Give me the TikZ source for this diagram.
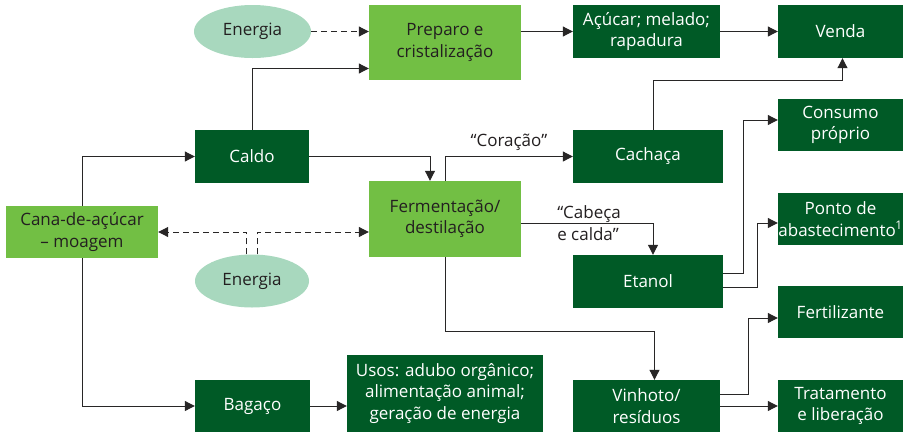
\documentclass[tikz,border=0pt]{standalone}
\usepackage{fontspec}
\setmainfont{Open Sans}
\usetikzlibrary{positioning,shapes.geometric,arrows.meta}
\definecolor{verdeesc}{RGB}{0,90,38}
\definecolor{verdecla}{RGB}{114,191,68}
\definecolor{verdeeli}{RGB}{168,216,190}
\definecolor{texto}{RGB}{35,31,32}
\definecolor{linha}{RGB}{40,38,38}

\begin{document}
\begin{tikzpicture}[x=1pt,y=-1pt,
    every node/.style={font=\fontsize{17}{21.5}\selectfont,align=center,inner sep=0pt},
    escuro/.style={rectangle,fill=verdeesc,text=white},
    claro/.style={rectangle,fill=verdecla,text=texto},
    elipse/.style={ellipse,fill=verdeeli,text=texto,minimum width=117pt,minimum height=53pt},
    seta/.style={draw=linha,line width=1pt,-{Triangle[length=10pt,width=10pt]}},
    tracejada/.style={seta,dash pattern=on 6pt off 4pt},
    lbl/.style={text=texto,fill=none}]
  \useasboundingbox (0,0) rectangle (903,432);
  % nós
  \node[elipse] (ener1) at (252.5,31.5) {Energia};
  \node[claro,minimum width=152pt,minimum height=75pt] (prep) at (445,42.5) {Preparo e\\cristalização};
  \node[escuro,minimum width=147pt,minimum height=53pt] (acuc) at (646.5,31.5) {Açúcar; melado;\\rapadura};
  \node[escuro,minimum width=125pt,minimum height=53pt] (venda) at (840.5,31.5) {Venda};
  \node[escuro,minimum width=125pt,minimum height=52pt] (consumo) at (840.5,125) {Consumo\\próprio};
  \node[escuro,minimum width=125pt,minimum height=52pt] (ponto) at (840.5,219) {Ponto de\\abastecimento\kern-0.5pt\textsuperscript{1}};
  \node[escuro,minimum width=125pt,minimum height=52pt] (fert) at (840.5,312) {Fertilizante};
  \node[escuro,minimum width=125pt,minimum height=52pt] (trat) at (840.5,406) {Tratamento\\e liberação};
  \node[escuro,minimum width=114pt,minimum height=53pt] (caldo) at (252,156.5) {Caldo};
  \node[escuro,minimum width=150pt,minimum height=53pt] (cacha) at (648,156.5) {Cachaça};
  \node[claro,minimum width=152pt,minimum height=52pt] (cana) at (82,232) {Cana-de-açúcar\\– moagem};
  \node[claro,minimum width=152pt,minimum height=76pt] (ferm) at (445,219) {Fermentação/\\destilação};
  \node[elipse,minimum width=114pt] (ener2) at (252,281) {Energia};
  \node[escuro,minimum width=150pt,minimum height=53pt] (etanol) at (648,281.5) {Etanol};
  \node[escuro,minimum width=115pt,minimum height=52pt] (bagaco) at (252.5,406) {Bagaço};
  \node[escuro,minimum width=196pt,minimum height=77pt] (usos) at (445,393.5) {Usos: adubo orgânico;\\alimentação animal;\\geração de energia};
  \node[escuro,minimum width=147pt,minimum height=52pt] (vinh) at (646.5,406) {Vinhoto/\\resíduos};
  % conexões
  \draw[tracejada] (ener1.east) -- (ener1.east -| prep.west);
  \draw[seta] (caldo.north) |- ([yshift=-26pt]prep.west);
  \draw[seta] (prep.east |- acuc.west) -- (acuc.west);
  \draw[seta] (acuc) -- (venda);
  \draw[seta] ([xshift=5pt]cacha.north) -- ++(0,-49) -| ([xshift=2pt]venda.south);
  \draw[seta] (cana.north) |- (caldo.west);
  \draw[seta] (cana.south) |- (bagaco.west);
  \draw[seta] (caldo.east) -| ([xshift=-15pt]ferm.north);
  \draw[seta] (ferm.north) |- (cacha.west) node[lbl,above=5pt,pos=0.75] {“Coração”};
  \draw[seta] ([yshift=-4pt]ferm.east) -| ([xshift=5pt]etanol.north)
    node[lbl,pos=0.25,align=left,xshift=2pt] {“Cabeça\\e calda”};
  \draw[seta] (ferm.south) -- ++(0,74) -| ([xshift=8pt]vinh.north);
  \draw[tracejada] ([xshift=-5.5pt]ener2.north) |- (cana.east);
  \draw[tracejada] ([xshift=5.5pt]ener2.north) |- (ferm.west |- cana.east);
  \draw[seta] ([yshift=8pt]etanol.east) -- ++(20,0) |- ([yshift=5pt]consumo.west);
  \draw[seta] ([yshift=-5.5pt]etanol.east) -- ++(34,0) |- ([yshift=-4pt]ponto.west);
  \draw[seta] ([yshift=12pt]vinh.east) -- ++(28,0) |- ([yshift=-6pt]fert.west);
  \draw[seta] (vinh.east) -- (trat.west);
  \draw[seta] (bagaco.east) -- (bagaco.east -| usos.west);
\end{tikzpicture}
\end{document}
